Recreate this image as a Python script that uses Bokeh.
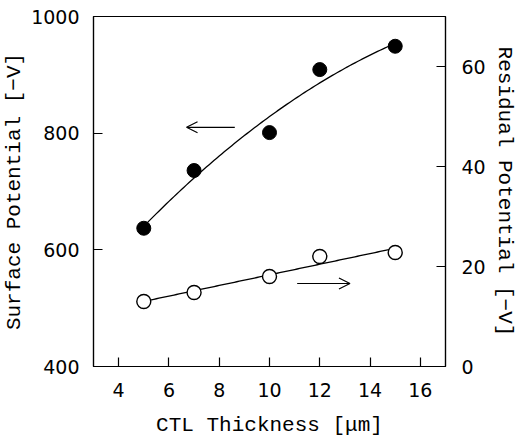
import numpy as np
from bokeh.plotting import figure
from bokeh.models import Range1d, LinearAxis, FixedTicker, Arrow, OpenHead
from bokeh.embed import file_html
from bokeh.resources import INLINE

# Data
thickness = [5, 7, 10, 12, 15]
surface_potential = [637, 736, 801, 909, 949]      # left axis [-V]
residual_potential = [13.0, 14.8, 18.0, 22.0, 22.8]  # right axis [-V]

x_ticks = [4, 6, 8, 10, 12, 14, 16]
left_ticks = [400, 600, 800, 1000]
right_ticks = [0, 20, 40, 60]

# trend lines (least-squares fits of the data, as drawn in the original)
xs = np.linspace(5, 15, 101)
fit_sp = np.polyval(np.polyfit(thickness, surface_potential, 2), xs)
fit_rp = np.polyval(np.polyfit(thickness, residual_potential, 1), xs)

p = figure(output_backend="svg", toolbar_location=None,
           frame_width=352, frame_height=350,
           min_border_left=93, min_border_right=70, min_border_top=16, min_border_bottom=66,
           x_range=Range1d(3, 17), y_range=Range1d(400, 1000))
p.extra_y_ranges = {"res": Range1d(0, 70)}

p.grid.visible = False
p.outline_line_color = "black"
p.outline_line_width = 1.2
p.background_fill_color = "white"
p.border_fill_color = "white"

# curves
p.line(xs, fit_sp, line_color="black", line_width=1.3)
p.line(xs, fit_rp, line_color="black", line_width=1.3, y_range_name="res")

p.scatter(thickness, surface_potential, size=14, fill_color="black", line_color="black")
p.scatter(thickness, residual_potential, size=14, fill_color="white", line_color="black",
          line_width=1.4, y_range_name="res")

# arrows indicating axes
p.add_layout(Arrow(end=OpenHead(size=11, line_width=1.2, line_color="black"),
                   x_start=8.62, y_start=810, x_end=6.7, y_end=810,
                   line_width=1.2, line_color="black"))
p.add_layout(Arrow(end=OpenHead(size=11, line_width=1.2, line_color="black"),
                   x_start=11.1, y_start=16.6, x_end=13.2, y_end=16.6,
                   line_width=1.2, line_color="black", y_range_name="res"))

tick_font = "DejaVu Sans"
label_font = "Courier New"

ax = p.xaxis[0]
ax.ticker = FixedTicker(ticks=x_ticks)
ax.axis_label = "CTL Thickness [μm]"

ay = p.yaxis[0]
ay.ticker = FixedTicker(ticks=left_ticks)
ay.axis_label = "Surface Potential [−V]"

ry = LinearAxis(y_range_name="res", ticker=FixedTicker(ticks=right_ticks),
                axis_label="Residual Potential [−V]")
p.add_layout(ry, "right")

for a in [ax, ay, ry]:
    a.major_tick_in = 9
    a.major_tick_out = 0
    a.minor_tick_in = 0
    a.minor_tick_out = 0
    a.axis_line_color = "black"
    a.axis_line_width = 1.2
    a.major_tick_line_width = 1.2
    a.major_label_text_font = tick_font
    a.major_label_text_font_size = "19px"
    a.major_label_text_color = "black"
    a.axis_label_text_font = label_font
    a.axis_label_text_font_size = "21px"
    a.axis_label_text_font_style = "normal"
    a.axis_label_text_color = "black"
    a.major_label_standoff = 16
    a.axis_label_standoff = 6

ax.major_label_standoff = 16
ax.axis_label_standoff = 14
ay.major_label_standoff = 14
ay.axis_label_standoff = 2
ry.axis_label_standoff = 4

open("out.html", "w").write(file_html(p, INLINE))
